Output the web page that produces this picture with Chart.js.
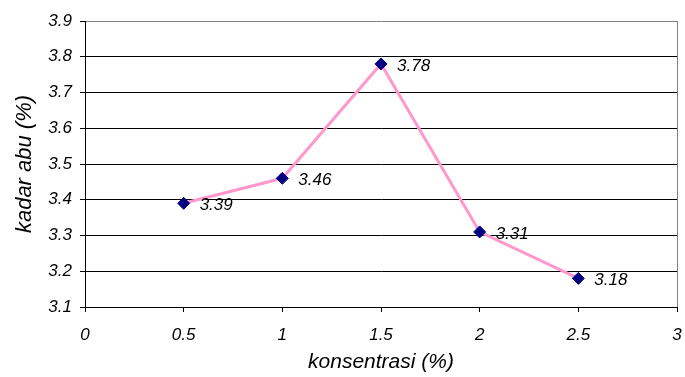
<!DOCTYPE html>
<html>
<head>
<meta charset="utf-8">
<script src="https://cdn.jsdelivr.net/npm/chart.js@4/dist/chart.umd.min.js"></script>
<style>
  html, body { margin: 0; padding: 0; background: #fff; }
  #wrap { width: 685px; height: 377px; }
</style>
</head>
<body>
<div id="wrap"><canvas id="c" width="685" height="377"></canvas></div>
<script>
// Ash content (kadar abu) against concentration
const konsentrasi = [0.5, 1, 1.5, 2, 2.5];
const kadarAbu = [3.39, 3.46, 3.78, 3.31, 3.18];
const xTicks = [0, 0.5, 1, 1.5, 2, 2.5, 3];
const yTicks = [3.1, 3.2, 3.3, 3.4, 3.5, 3.6, 3.7, 3.8, 3.9];

const FONT = 'Liberation Sans, Arial, sans-serif';

// Writes each point's value just to the right of its marker
const valueLabels = {
  id: 'valueLabels',
  afterDatasetsDraw(chart) {
    const ctx = chart.ctx;
    const meta = chart.getDatasetMeta(0);
    ctx.save();
    ctx.font = 'italic 17px ' + FONT;
    ctx.fillStyle = '#000';
    ctx.textAlign = 'left';
    ctx.textBaseline = 'middle';
    meta.data.forEach((pt, i) => {
      ctx.fillText(kadarAbu[i].toFixed(2), pt.x + 16, pt.y + 2);
    });
    ctx.restore();
  }
};

new Chart(document.getElementById('c'), {
  type: 'scatter',
  data: {
    datasets: [{
      data: konsentrasi.map((x, i) => ({ x, y: kadarAbu[i] })),
      showLine: true,
      borderColor: '#ff99cc',
      borderWidth: 3,
      pointStyle: 'rectRot',
      pointRadius: 6,
      pointHoverRadius: 6,
      pointBackgroundColor: '#000080',
      pointBorderColor: '#000080',
      pointBorderWidth: 1
    }]
  },
  options: {
    responsive: false,
    animation: false,
    layout: { padding: { top: 21, right: 8, left: 0, bottom: 0 } },
    plugins: { legend: { display: false }, tooltip: { enabled: false } },
    scales: {
      x: {
        type: 'linear',
        min: 0, max: 3,
        afterBuildTicks: s => { s.ticks = xTicks.map(v => ({ value: v })); },
        afterFit: s => { s.height = 70; s.paddingLeft = 0; s.paddingRight = 0; },
        border: { color: '#000', width: 1 },
        grid: {
          color: c => (c.tick && c.tick.value === 3) ? '#808080' : 'rgba(0,0,0,0)',
          tickColor: '#000',
          tickLength: 5,
          drawOnChartArea: true
        },
        ticks: {
          color: '#000',
          font: { family: FONT, size: 17, style: 'italic' },
          padding: 13,
          maxRotation: 0,
          callback: v => String(v)
        },
        title: {
          display: true,
          text: 'konsentrasi (%)',
          color: '#000',
          font: { family: FONT, size: 21, style: 'italic' },
          padding: { top: 0, bottom: 2 }
        }
      },
      y: {
        min: 3.1, max: 3.9,
        afterBuildTicks: s => { s.ticks = yTicks.map(v => ({ value: v })); },
        afterFit: s => { s.width = 85; s.paddingTop = 0; s.paddingBottom = 0; },
        border: { color: '#000', width: 1 },
        grid: {
          color: c => (c.tick && Math.abs(c.tick.value - 3.9) < 1e-6) ? '#808080' : '#000',
          tickColor: '#000',
          tickLength: 5
        },
        ticks: {
          color: '#000',
          font: { family: FONT, size: 17, style: 'italic' },
          padding: 8,
          callback: v => Number(v).toFixed(1)
        },
        title: {
          display: true,
          text: 'kadar abu (%)',
          color: '#000',
          font: { family: FONT, size: 22, style: 'italic' },
          padding: { top: 12, bottom: 2 }
        }
      }
    }
  },
  plugins: [valueLabels]
});
</script>
</body>
</html>
